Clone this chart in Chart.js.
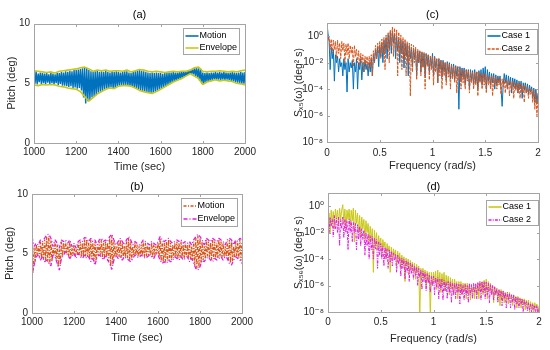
<!DOCTYPE html>
<html><head><meta charset="utf-8">
<script src="https://cdn.jsdelivr.net/npm/chart.js@4.4.1/dist/chart.umd.min.js"></script>
<style>
html,body{margin:0;padding:0;background:#fff;width:550px;height:350px;overflow:hidden}
.box{position:absolute;width:275px;height:175px}
</style></head><body>
<div class="box" style="left:0;top:0"><canvas id="ca"></canvas></div>
<div class="box" style="left:275px;top:0"><canvas id="cc"></canvas></div>
<div class="box" style="left:0;top:175px"><canvas id="cb"></canvas></div>
<div class="box" style="left:275px;top:175px"><canvas id="cd"></canvas></div>
<script>
// ---------------- DATA ----------------
const timeTicks = [1000, 1200, 1400, 1600, 1800, 2000];
const pitchTicks = [0, 5, 10];
const freqTicks = [0, 0.5, 1, 1.5, 2];
const specTicks = [1e-8, 1e-6, 1e-4, 1e-2, 1];
const specTickLabels = ['10\u207B\u2078', '10\u207B\u2076', '10\u207B\u2074', '10\u207B\u00B2', '10\u2070'];

// (a) time grid: motion every 5 s, envelope every 20 s, from 1000 s
const motionA = [
5.9,5.0,6.0,4.9,5.8,5.1,5.9,4.95,5.85,5.0,
5.8,4.9,5.9,5.05,5.75,4.95,5.85,5.0,5.8,4.9,
5.75,5.0,5.9,4.85,5.85,4.95,5.95,4.8,5.9,4.8,
6.0,4.75,5.95,4.7,6.05,4.75,6.0,4.6,6.1,4.65,
6.1,4.55,6.15,4.6,6.2,4.4,6.25,3.8,6.3,3.3,
6.3,3.5,6.1,3.6,6.0,3.8,5.95,3.9,6.0,4.0,
6.05,4.2,5.95,4.3,6.0,4.35,5.95,4.5,6.05,4.55,
5.95,4.6,5.9,4.65,6.0,4.55,5.95,4.6,6.0,4.7,
5.95,4.8,5.9,4.85,5.95,4.8,6.0,4.85,6.0,4.8,
5.9,4.75,5.85,4.7,5.95,4.6,6.0,4.55,6.05,4.45,
6.1,4.4,6.05,4.35,6.0,4.3,5.95,4.25,5.9,4.2,
5.85,4.15,5.9,4.2,5.85,4.3,5.9,4.35,5.85,4.45,
5.85,4.55,5.8,4.65,5.85,4.75,5.85,4.85,5.9,4.95,
5.9,5.05,5.95,5.15,5.9,5.2,5.9,5.3,5.95,5.35,
5.95,5.45,5.95,5.55,5.95,5.65,6.0,5.75,6.05,5.8,
6.15,5.75,6.25,5.6,6.3,5.45,6.25,5.2,6.2,4.95,
5.9,4.95,5.85,5.1,5.9,5.15,5.85,5.2,5.9,5.25,
5.9,5.3,5.95,5.25,5.9,5.3,5.95,5.25,5.9,5.3,
5.95,5.25,5.9,5.3,5.85,5.25,5.9,5.2,5.95,5.15,
5.9,5.1,5.85,5.05,5.9,5.0,5.95,4.95,5.9,4.9,
5.95];
const envUpperA = [
6.05,6.0,5.95,5.9,5.95,5.85,6.0,6.05,6.1,6.15,
6.2,6.3,6.35,6.2,6.0,6.1,6.05,6.1,6.0,6.05,
6.05,6.0,6.1,5.95,6.05,6.15,6.1,6.0,5.95,6.0,
5.95,5.9,5.95,6.0,5.95,6.0,6.0,6.1,6.3,6.35,
6.0,5.95,6.0,6.0,6.05,6.0,5.95,6.0,5.95,6.05,
6.1];
const envLowerA = [
4.85,4.8,4.9,4.85,4.9,4.85,4.75,4.7,4.6,4.55,
4.5,4.3,3.9,3.5,3.8,4.1,4.3,4.5,4.6,4.55,
4.75,4.8,4.8,4.75,4.6,4.4,4.3,4.2,4.15,4.3,
4.5,4.7,4.9,5.1,5.25,5.4,5.6,5.8,5.6,5.4,
4.9,5.1,5.2,5.3,5.2,5.25,5.2,5.15,5.0,4.95,
4.85];

// (b) motion every 5 s, envelope every 10 s
const motionB = [
6.2,3.4,5.5,4.3,5.75,4.85,5.6,4.7,6.0,4.6,
5.9,4.5,6.15,4.45,6.4,4.3,6.45,4.1,6.1,4.4,
5.45,4.85,6.0,4.5,5.75,3.9,5.35,4.1,6.0,4.75,
5.9,5.0,6.0,5.0,5.75,4.75,6.0,4.7,5.45,4.9,
5.75,4.8,5.35,4.85,5.9,4.9,6.0,4.7,5.9,4.75,
6.2,4.75,6.15,4.7,5.9,4.55,6.15,4.5,5.9,4.3,
6.0,4.4,5.6,4.85,6.0,4.85,6.15,4.65,5.9,4.7,
6.0,4.7,5.9,4.35,6.3,3.9,6.5,4.1,6.0,4.7,
5.6,4.8,5.9,4.7,6.15,4.65,5.9,4.65,5.6,4.7,
6.0,4.6,6.3,4.45,6.0,4.5,5.6,4.8,5.9,4.85,
5.75,4.75,5.6,4.8,5.75,4.85,6.0,4.7,5.9,4.75,
5.75,4.85,5.6,4.85,5.9,4.7,5.75,4.85,5.6,5.0,
5.9,4.7,6.3,4.35,6.0,4.3,5.9,4.3,6.0,4.35,
6.15,4.45,5.9,4.45,5.75,4.65,5.9,4.7,6.0,4.55,
5.9,4.65,6.0,4.65,5.75,4.6,5.9,4.7,5.75,4.6,
5.9,4.5,5.6,4.4,6.0,4.0,6.3,3.75,6.5,3.8,
6.3,4.2,6.0,4.45,5.6,4.55,6.15,4.75,6.0,4.65,
5.9,4.45,6.15,4.55,6.0,4.6,5.9,4.6,6.15,4.75,
6.0,4.65,5.9,4.7,5.6,4.75,6.0,4.45,6.15,4.2,
6.0,4.35,5.6,4.7,6.0,4.75,5.9,4.6,6.15,4.4,
6.0];
const envUpperB = [
6.4,5.6,5.86,5.72,6.14,6.0,6.28,6.56,6.62,6.28,
5.58,6.14,5.86,5.44,6.14,6.0,6.14,5.86,6.14,5.58,
5.86,5.44,6.0,6.14,6.0,6.34,6.28,6.0,6.28,6.0,
6.14,5.72,6.14,6.28,6.0,6.14,6.0,6.42,6.62,6.14,
5.72,6.0,6.28,6.0,5.72,6.14,6.42,6.14,5.72,6.0,
5.86,5.72,5.86,6.14,6.0,5.86,5.72,6.0,5.86,5.72,
6.0,6.42,6.14,6.0,6.14,6.28,6.0,5.86,6.0,6.14,
6.0,6.14,5.86,6.0,5.86,6.0,5.72,6.14,6.42,6.62,
6.42,6.14,5.72,6.28,6.14,6.0,6.28,6.14,6.0,6.28,
6.14,6.0,5.72,6.14,6.28,6.14,5.72,6.14,6.0,6.28,
6.14];
const envLowerB = [
3.18,4.03,4.73,4.87,4.45,4.73,4.31,4.45,4.17,3.97,
4.87,4.73,4.17,3.61,4.59,4.87,5.15,4.87,4.59,4.73,
5.01,4.59,5.01,4.73,4.59,4.87,4.59,4.73,4.31,4.59,
4.03,4.73,4.87,4.73,4.45,4.87,4.45,4.17,3.66,4.45,
4.87,4.59,4.73,4.45,4.73,4.59,4.45,4.31,4.59,4.87,
4.73,4.65,4.87,4.73,4.59,4.73,4.87,4.73,4.59,5.01,
4.87,4.45,4.17,4.31,4.17,4.45,4.31,4.45,4.73,4.59,
4.45,4.73,4.45,4.59,4.73,4.31,4.59,4.17,3.75,3.61,
3.89,4.45,4.31,4.59,4.73,4.45,4.31,4.59,4.45,4.59,
4.73,4.45,4.73,4.59,4.17,4.03,4.45,4.73,4.59,4.45,
4.17];

// spectra on a 0.01 rad/s grid from 0 to 2
const specC1 = [
9,1.5,0.4,3e-3,0.15,0.02,0.1,4e-4,0.04,0.01,
0.03,2e-3,0.02,5e-3,0.01,1e-3,0.02,3e-3,0.01,6e-5,
0.02,2e-3,0.01,4e-3,0.015,1e-4,0.01,2e-3,0.02,1e-4,
0.01,3e-3,0.02,5e-4,0.01,2e-3,0.015,3e-3,8e-3,1e-3,
0.01,2e-3,0.02,1e-3,0.04,0.01,0.1,0.02,0.15,5e-3,
0.2,0.03,0.3,0.01,0.5,0.05,0.8,0.02,1.2,0.1,
2,0.05,2.5,0.3,1.5,0.02,1,0.08,0.6,0.01,
0.5,0.05,0.4,4e-3,0.3,0.03,0.25,1e-3,0.2,0.02,
0.15,5e-3,0.12,0.02,0.1,1e-3,0.08,0.01,0.07,2e-3,
0.06,5e-3,0.05,1e-3,0.05,8e-3,0.04,2e-3,0.03,5e-3,
0.05,1e-3,0.03,4e-3,0.02,3e-4,0.02,3e-3,0.015,8e-4,
0.015,2e-3,0.01,5e-4,0.012,2e-3,0.01,6e-4,8e-3,1e-3,
8e-3,5e-4,6e-3,1e-3,5e-3,3e-6,5e-3,4e-4,4e-3,8e-4,
4e-3,2e-4,3e-3,6e-4,3e-3,1e-4,3e-3,5e-4,2.5e-3,2e-4,
3e-3,3e-4,2e-3,1e-4,2.5e-3,4e-4,3e-3,2e-4,4e-3,5e-4,
5e-3,1e-4,3e-3,4e-4,2e-3,2e-4,1.5e-3,3e-4,1.5e-3,1e-4,
1.2e-3,2e-4,1e-3,3e-4,1e-3,1e-4,5e-6,2e-4,1.5e-3,3e-4,
1.2e-3,1e-4,1e-3,2e-4,8e-4,5e-5,7e-4,1.5e-4,6e-4,1e-4,
5e-4,5e-5,4e-4,1e-4,4e-4,2e-5,3e-4,8e-5,3e-4,5e-5,
2.5e-4,4e-5,2e-4,6e-5,1.5e-4,2e-5,1.2e-4,1e-5,1e-4,8e-6,
5e-5];
const specC2 = [
2,0.5,0.8,0.1,0.6,0.05,0.5,0.1,0.4,0.02,
0.5,0.05,0.3,0.02,0.4,0.08,0.3,0.01,0.25,0.04,
0.3,0.02,0.2,0.05,0.15,5e-3,0.2,0.03,0.1,0.01,
0.08,5e-3,0.05,0.01,0.04,2e-3,0.03,8e-3,0.03,3e-3,
0.03,5e-3,0.04,1e-3,0.08,0.01,0.2,0.02,0.3,0.05,
0.4,0.02,0.6,0.05,0.8,3e-3,1.2,0.1,2,0.01,
3,0.2,5,0.03,4,0.1,3,1e-3,2,0.05,
1.2,3e-3,0.8,0.02,0.6,1e-3,0.4,0.01,0.3,3e-5,
0.25,2e-3,0.2,0.01,0.15,5e-4,0.1,0.01,0.08,1e-3,
0.07,4e-3,0.06,1e-4,0.05,5e-3,0.04,5e-4,0.03,3e-3,
0.03,2e-4,0.025,2e-3,0.02,3e-4,0.02,1e-3,0.015,1e-4,
0.012,1e-3,0.01,2e-4,0.01,8e-4,8e-3,1e-4,7e-3,6e-4,
6e-3,3e-4,5e-3,5e-5,5e-3,5e-4,4e-3,1e-4,3e-3,3e-4,
3e-3,1e-4,3e-3,4e-4,2.5e-3,5e-5,2e-3,3e-4,2e-3,1e-4,
2e-3,2e-4,2e-3,3e-5,1.8e-3,3e-4,1.5e-3,1e-4,1.5e-3,2e-4,
1.5e-3,5e-5,1.2e-3,2e-4,1e-3,1e-4,1e-3,3e-5,9e-4,2e-4,
8e-4,1e-4,8e-4,2e-4,7e-4,4e-5,6e-4,1.5e-4,6e-4,5e-5,
5e-4,1e-4,5e-4,3e-5,4e-4,1e-4,4e-4,2e-5,3e-4,8e-5,
3e-4,5e-5,3e-4,2e-5,2.5e-4,6e-5,2e-4,1e-5,2e-4,5e-5,
1.5e-4,2e-5,1.2e-4,4e-5,1e-4,1e-5,1e-4,3e-6,6e-5,1e-6,
3e-5];
const specD1 = [
0.05,0.3,0.01,0.5,0.05,0.4,0.02,0.6,0.1,0.5,
0.03,0.7,0.1,0.5,1.3,0.05,0.6,0.02,0.5,0.1,
0.6,0.03,0.5,0.08,0.7,2e-3,0.5,0.05,0.3,0.01,
0.2,5e-3,0.15,0.02,0.1,3e-3,0.08,0.01,0.05,2e-3,
0.03,3e-3,0.02,1e-5,0.015,1e-3,0.01,5e-4,6e-3,1e-3,
4e-3,2e-4,3e-3,8e-4,2e-3,1e-4,1.5e-3,4e-4,1e-3,1e-5,
8e-4,1e-4,6e-4,2e-4,5e-4,3e-5,4e-4,1e-4,3e-4,2e-5,
2e-4,4e-5,1.5e-4,2e-6,1.2e-4,3e-5,1e-4,8e-6,8e-5,2e-5,
6e-5,1e-5,5e-5,3e-6,4e-5,1e-5,3e-5,5e-9,2e-5,4e-6,
2e-5,3e-6,1.5e-5,8e-7,1.2e-5,2e-6,1e-5,5e-9,1e-5,1e-6,
1e-5,2e-6,1.2e-5,5e-7,1.5e-5,1e-6,1e-5,3e-7,8e-6,1e-6,
1e-5,4e-7,6e-6,1e-6,5e-6,2e-7,4e-6,6e-7,3e-6,2e-7,
3e-6,5e-7,2e-6,1e-7,2e-6,4e-7,2e-6,2e-7,1.5e-6,5e-7,
1.5e-6,1e-7,1.5e-6,3e-7,1.2e-6,8e-8,1e-6,3e-7,1e-6,1e-7,
1.2e-6,2e-7,1.5e-6,1e-7,2e-6,4e-7,2e-6,2e-7,2.5e-6,3e-7,
3e-6,1e-7,2e-6,4e-7,1.5e-6,2e-7,1e-6,5e-8,8e-7,2e-7,
6e-7,1e-7,5e-7,3e-8,5e-7,1e-7,4e-7,5e-8,3e-7,8e-8,
3e-7,4e-8,3e-7,1e-7,2e-7,3e-8,2e-7,6e-8,1.5e-7,2e-8,
1.5e-7,5e-8,1.2e-7,2e-8,1e-7,4e-8,1e-7,1.5e-8,8e-8,3e-8,
8e-8,1e-8,6e-8,2e-8,5e-8,8e-9,5e-8,2e-8,4e-8,5e-9,
3e-8];
const specD2 = [
0.1,0.01,0.15,0.03,0.1,5e-3,0.2,0.02,0.12,0.01,
0.15,1e-3,0.1,0.02,0.15,4e-3,0.1,0.01,0.08,5e-4,
0.1,0.01,0.08,2e-3,0.06,0.01,0.05,5e-4,0.04,3e-3,
0.03,1e-3,0.02,3e-3,0.015,2e-4,0.01,1e-3,8e-3,1e-4,
6e-3,5e-4,5e-3,1e-4,4e-3,6e-4,3e-3,2e-5,2e-3,2e-4,
1.5e-3,1e-4,1e-3,3e-5,8e-4,1e-4,6e-4,2e-5,5e-4,6e-5,
4e-4,3e-5,3e-4,8e-5,2.5e-4,1e-5,2e-4,4e-5,1.5e-4,5e-6,
1.2e-4,2e-5,1e-4,3e-6,8e-5,1e-5,6e-5,2e-6,5e-5,8e-6,
4e-5,3e-6,3e-5,6e-6,2.5e-5,1e-6,2e-5,4e-6,1.5e-5,5e-7,
1.2e-5,2e-6,1e-5,4e-7,8e-6,1.5e-6,6e-6,3e-7,5e-6,1e-6,
5e-6,2e-7,4e-6,8e-7,4e-6,1e-7,3e-6,5e-7,3e-6,8e-8,
2.5e-6,4e-7,2e-6,1e-7,2e-6,3e-7,2e-6,5e-8,1.5e-6,2e-7,
1.5e-6,1e-7,1.5e-6,3e-7,1.2e-6,4e-8,1.2e-6,2e-7,1e-6,8e-8,
1.2e-6,2e-7,1e-6,5e-8,1.5e-6,2e-7,1.2e-6,1e-7,1.5e-6,3e-7,
1.5e-6,1e-7,1.8e-6,4e-7,2e-6,8e-8,2e-6,3e-7,2e-6,1e-7,
1.8e-6,2e-7,1.5e-6,5e-8,1.2e-6,2e-7,1e-6,8e-8,8e-7,2e-7,
6e-7,5e-8,5e-7,1.5e-7,4e-7,3e-8,4e-7,1e-7,3e-7,2e-8,
3e-7,8e-8,2.5e-7,2e-8,2e-7,6e-8,2e-7,1.5e-8,1.5e-7,4e-8,
1.2e-7,2e-8,1e-7,4e-8,1e-7,1e-8,8e-8,3e-8,6e-8,1.2e-8,
5e-8,1.5e-8,4e-8,8e-9,4e-8,1.5e-8,3e-8,6e-9,3e-8,1e-8,
2e-8];

// ---------------- helpers ----------------
const FONT = "'Liberation Sans','DejaVu Sans',Arial,sans-serif";
Chart.defaults.font.family = FONT;
Chart.defaults.color = '#262626';
const toXY = (vals, start, step) => vals.map((v, i) => ({x: start + i * step, y: v}));

const BLUE = '#0072BD', ORANGE = '#D95319', YEL = '#C8C814', MAG = '#E619E6';

const decor = {
  id: 'decor',
  afterDatasetsDraw(chart, args, o) {
    const {ctx, chartArea: a} = chart;
    const xs = chart.scales.x, ys = chart.scales.y;
    ctx.save();
    ctx.strokeStyle = '#a4a4a4'; ctx.lineWidth = 1; ctx.setLineDash([]);
    const L = Math.round(a.left) + 0.5, T = Math.round(a.top) + 0.5, R = Math.round(a.right) + 0.5, B = Math.round(a.bottom) + 0.5;
    ctx.strokeRect(L, T, R - L, B - T);
    ctx.beginPath();
    xs.ticks.forEach(t => { const p = Math.round(xs.getPixelForValue(t.value)) + 0.5; ctx.moveTo(p, B); ctx.lineTo(p, B - 2.5); ctx.moveTo(p, T); ctx.lineTo(p, T + 2.5); });
    ys.ticks.forEach(t => { const p = Math.round(ys.getPixelForValue(t.value)) + 0.5; ctx.moveTo(L, p); ctx.lineTo(L + 2.5, p); ctx.moveTo(R, p); ctx.lineTo(R - 2.5, p); });
    ctx.stroke();
    // title
    ctx.fillStyle = '#000'; ctx.font = '11px ' + FONT; ctx.textAlign = 'center'; ctx.textBaseline = 'middle';
    ctx.fillText(o.title, (a.left + a.right) / 2, a.top - o.titleGap);
    // legend
    const lg = o.legend;
    const bx = Math.round(a.right - lg.right - lg.w) + 0.5, by = Math.round(a.top + lg.top) + 0.5;
    ctx.fillStyle = '#fff'; ctx.fillRect(bx, by, lg.w, lg.h);
    ctx.strokeStyle = '#a4a4a4'; ctx.lineWidth = 1; ctx.strokeRect(bx, by, lg.w, lg.h);
    ctx.font = '9px ' + FONT; ctx.textAlign = 'left';
    lg.items.forEach((di, k) => {
      const ds = chart.data.datasets[di];
      const cy = Math.round(by + lg.rows[k]);
      ctx.strokeStyle = ds.borderColor; ctx.lineWidth = 1.6; ctx.setLineDash(ds.borderDash || []);
      ctx.beginPath(); ctx.moveTo(bx + 2, cy); ctx.lineTo(bx + 15, cy); ctx.stroke();
      ctx.setLineDash([]);
      ctx.fillStyle = '#000'; ctx.fillText(ds.label, bx + 16, cy);
    });
    ctx.restore();
  }
};

function makeChart(id, cfg) {
  const isLog = cfg.log;
  return new Chart(document.getElementById(id), {
    type: 'line',
    data: {datasets: cfg.datasets},
    options: {
      responsive: true, maintainAspectRatio: false, animation: false,
      events: [],
      layout: {padding: {left: 0, top: cfg.top, right: cfg.right, bottom: 0}},
      elements: {point: {radius: 0}, line: {tension: 0, borderJoinStyle: 'bevel'}},
      plugins: {legend: {display: false}, tooltip: {enabled: false}, title: {display: false},
        decor: {title: cfg.title, titleGap: cfg.titleGap, legend: cfg.legend}},
      scales: {
        x: {
          type: 'linear', min: cfg.xmin, max: cfg.xmax,
          afterBuildTicks: s => { s.ticks = cfg.xticks.map(v => ({value: v})); },
          afterFit: s => { s.height = cfg.xh; },
          grid: {display: false, drawTicks: false}, border: {display: false},
          ticks: {padding: cfg.xpad, maxRotation: 0, autoSkip: false, font: {size: 10}, color: '#262626',
            callback: v => String(v)},
          title: {display: true, text: cfg.xtitle, font: {size: 11}, color: '#262626', padding: {top: 0, bottom: cfg.xtpad}}
        },
        y: {
          type: isLog ? 'logarithmic' : 'linear', min: cfg.ymin, max: cfg.ymax,
          afterBuildTicks: s => { s.ticks = cfg.yticks.map(v => ({value: v})); },
          afterFit: s => { s.width = cfg.yw; },
          grid: {display: false, drawTicks: false}, border: {display: false},
          ticks: {padding: 4, autoSkip: false, font: {size: 10}, color: '#262626',
            callback: (v) => cfg.ylabels ? cfg.ylabels[cfg.yticks.indexOf(v)] : String(v)},
          title: {display: true, text: cfg.ytitle, font: {size: cfg.ytsize || 11}, color: '#262626', padding: {top: cfg.ytpad, bottom: 0}}
        }
      }
    },
    plugins: [decor]
  });
}

// (a)
makeChart('ca', {
  title: '(a)', titleGap: 8.5, top: 23.5, right: 30, xh: 32, yw: 34, xpad: 3, xtpad: 1.4, ytpad: 5,
  xmin: 1000, xmax: 2000, xticks: timeTicks, ymin: 0, ymax: 10, yticks: pitchTicks,
  xtitle: 'Time (sec)', ytitle: 'Pitch (deg)',
  legend: {right: 6, top: 4.5, w: 56, h: 26, items: [1, 2], rows: [7, 19.5]},
  datasets: [
    {label: 'Envelope', data: toXY(envUpperA, 1000, 20), borderColor: YEL, borderWidth: 1.6, order: 0},
    {label: 'Motion', data: toXY(motionA, 1000, 5), borderColor: BLUE, borderWidth: 1.4, order: 1},
    {label: 'Envelope', data: toXY(envLowerA, 1000, 20), borderColor: YEL, borderWidth: 1.6, order: 0}
  ]
});

// (b)
makeChart('cb', {
  title: '(b)', titleGap: 7, top: 19, right: 33, xh: 37, yw: 32, xpad: 3, xtpad: 5.4, ytpad: 3,
  xmin: 1000, xmax: 2000, xticks: timeTicks, ymin: 0, ymax: 10, yticks: pitchTicks,
  xtitle: 'Time (sec)', ytitle: 'Pitch (deg)',
  legend: {right: 5, top: 4, w: 56, h: 28, items: [1, 0], rows: [7.5, 20.5]},
  datasets: [
    {label: 'Envelope', data: toXY(envUpperB, 1000, 10), borderColor: MAG, borderWidth: 1.3, borderDash: [4, 2, 1, 2], order: 0},
    {label: 'Motion', data: toXY(motionB, 1000, 5), borderColor: ORANGE, borderWidth: 1.3, borderDash: [3, 1.5, 1, 1.5], order: 1},
    {label: 'Envelope', data: toXY(envLowerB, 1000, 10), borderColor: MAG, borderWidth: 1.3, borderDash: [4, 2, 1, 2], order: 0}
  ]
});

// (c)
makeChart('cc', {
  log: true, title: '(c)', titleGap: 8, top: 23, right: 12, xh: 33, yw: 52, xpad: 5, xtpad: 2.4, ytpad: 18, ytsize: 10.5,
  xmin: 0, xmax: 2, xticks: freqTicks, ymin: 1e-8, ymax: 10, yticks: specTicks, ylabels: specTickLabels,
  xtitle: 'Frequency (rad/s)', ytitle: 'S\u2093\u2085(\u03C9) (deg\u00B2 s)',
  legend: {right: 1, top: 6, w: 52, h: 25, items: [1, 0], rows: [6.5, 19]},
  datasets: [
    {label: 'Case 2', data: toXY(specC2, 0, 0.01), borderColor: ORANGE, borderWidth: 1, borderDash: [3, 1.2], order: 0},
    {label: 'Case 1', data: toXY(specC1, 0, 0.01), borderColor: BLUE, borderWidth: 1, order: 1}
  ]
});

// (d)
makeChart('cd', {
  log: true, title: '(d)', titleGap: 6, top: 18, right: 11, xh: 38, yw: 53, xpad: 4, xtpad: 4.4, ytpad: 18, ytsize: 10.5,
  xmin: 0, xmax: 2, xticks: freqTicks, ymin: 1e-8, ymax: 10, yticks: specTicks, ylabels: specTickLabels,
  xtitle: 'Frequency (rad/s)', ytitle: 'S\u2093\u2085\u2091(\u03C9) (deg\u00B2 s)',
  legend: {right: 1, top: 7, w: 52, h: 25, items: [1, 0], rows: [6.5, 19]},
  datasets: [
    {label: 'Case 2', data: toXY(specD2, 0, 0.01), borderColor: MAG, borderWidth: 1, borderDash: [3, 1.2, 1, 1.2], order: 0},
    {label: 'Case 1', data: toXY(specD1, 0, 0.01), borderColor: YEL, borderWidth: 1, order: 1}
  ]
});
</script>
</body></html>
